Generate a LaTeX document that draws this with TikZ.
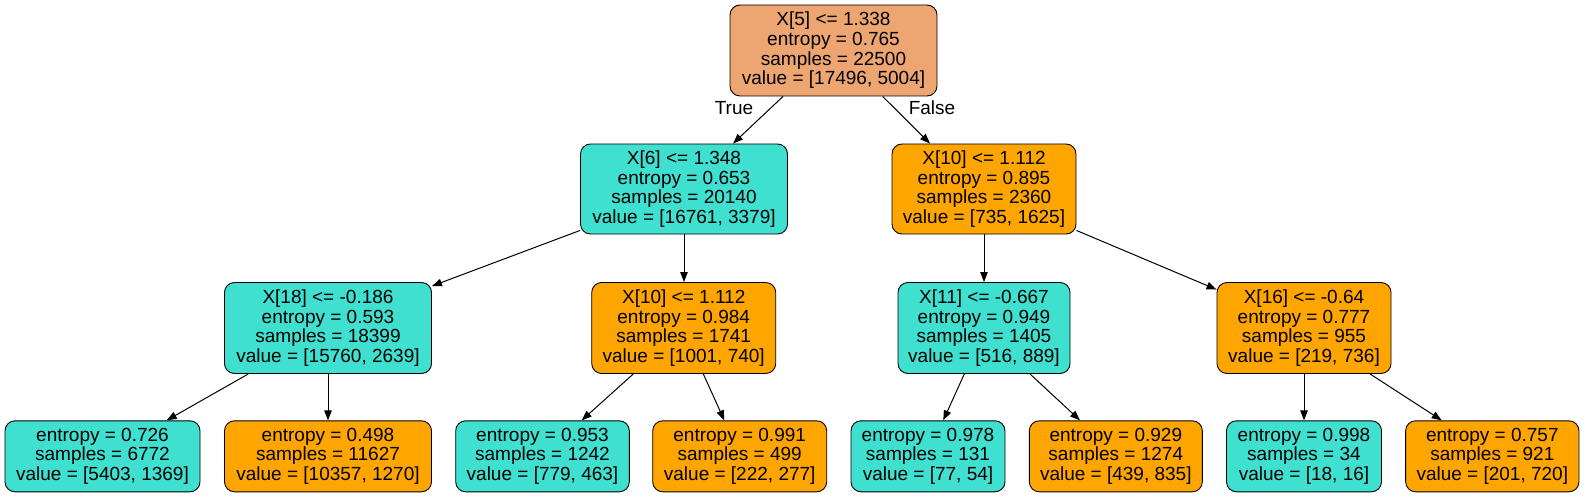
\documentclass[tikz,border=0pt]{standalone}
\usepackage{fontspec}
\setmainfont{Liberation Sans}
\usetikzlibrary{arrows.meta}
\definecolor{turq}{RGB}{64,224,208}
\definecolor{orng}{RGB}{255,165,0}
\definecolor{rootc}{RGB}{237,165,113}
\tikzset{
  tnode/.style={draw=black, line width=0.9pt, rounded corners=10pt, inner sep=0pt, align=center,
    font=\fontsize{19}{19.7}\selectfont},
  tq/.style={tnode, fill=turq},
  og/.style={tnode, fill=orng},
  rt/.style={tnode, fill=rootc},
  edge/.style={draw=black, line width=1pt, -{Triangle[length=10pt,width=7.5pt]}},
  lbl/.style={font=\fontsize{19}{19.7}\selectfont, inner sep=0pt}
}
\begin{document}
\begin{tikzpicture}[x=1pt,y=-1pt]
\useasboundingbox[fill=white] (0,0) rectangle (1584,497);
% level 1
\node[rt, minimum width=207pt, minimum height=91pt] (root) at (833.5,50.5)
  {X[5] <= 1.338\\entropy = 0.765\\samples = 22500\\value = [17496, 5004]};
% level 2
\node[tq, minimum width=207pt, minimum height=90pt] (A) at (684,189)
  {X[6] <= 1.348\\entropy = 0.653\\samples = 20140\\value = [16761, 3379]};
\node[og, minimum width=184pt, minimum height=90pt] (B) at (984,189)
  {X[10] <= 1.112\\entropy = 0.895\\samples = 2360\\value = [735, 1625]};
% level 3
\node[tq, minimum width=207pt, minimum height=91pt] (C) at (328,328)
  {X[18] <= -0.186\\entropy = 0.593\\samples = 18399\\value = [15760, 2639]};
\node[og, minimum width=184pt, minimum height=91pt] (D) at (683.7,328)
  {X[10] <= 1.112\\entropy = 0.984\\samples = 1741\\value = [1001, 740]};
\node[tq, minimum width=172pt, minimum height=91pt] (E) at (984,328)
  {X[11] <= -0.667\\entropy = 0.949\\samples = 1405\\value = [516, 889]};
\node[og, minimum width=174pt, minimum height=91pt] (F) at (1304,328)
  {X[16] <= -0.64\\entropy = 0.777\\samples = 955\\value = [219, 736]};
% leaves
\node[tq, minimum width=195pt, minimum height=71pt] (L1) at (102.5,456.3)
  {entropy = 0.726\\samples = 6772\\value = [5403, 1369]};
\node[og, minimum width=207pt, minimum height=71pt] (L2) at (328,456.3)
  {entropy = 0.498\\samples = 11627\\value = [10357, 1270]};
\node[tq, minimum width=173.6pt, minimum height=71pt] (L3) at (542.5,456.3)
  {entropy = 0.953\\samples = 1242\\value = [779, 463]};
\node[og, minimum width=174pt, minimum height=71pt] (L4) at (739.7,456.3)
  {entropy = 0.991\\samples = 499\\value = [222, 277]};
\node[tq, minimum width=154pt, minimum height=71pt] (L5) at (928,456.3)
  {entropy = 0.978\\samples = 131\\value = [77, 54]};
\node[og, minimum width=173pt, minimum height=71pt] (L6) at (1115.8,456.3)
  {entropy = 0.929\\samples = 1274\\value = [439, 835]};
\node[tq, minimum width=155pt, minimum height=71pt] (L7) at (1304,456.3)
  {entropy = 0.998\\samples = 34\\value = [18, 16]};
\node[og, minimum width=173.3pt, minimum height=71pt] (L8) at (1492.3,456.3)
  {entropy = 0.757\\samples = 921\\value = [201, 720]};
% labels
\node[lbl] (T) at (734,108) {True};
\node[lbl] (Fa) at (932,108) {False};
% edges
\draw[edge] ([xshift=-50.5pt]root.south) -- ([xshift=49pt]A.north);
\draw[edge] ([xshift=49.2pt]root.south) -- ([xshift=-54pt]B.north);
\draw[edge] ([yshift=4pt]A.south west) -- ([yshift=-4pt]C.north east);
\draw[edge] (A.south) -- (A.south |- D.north);
\draw[edge] (B.south) -- (B.south |- E.north);
\draw[edge] ([yshift=4pt]B.south east) -- ([yshift=-7.5pt]F.north west);
\draw[edge] ([xshift=-79.7pt]C.south) -- ([xshift=64.2pt]L1.north);
\draw[edge] (C.south) -- (C.south |- L2.north);
\draw[edge] ([xshift=-50.4pt]D.south) -- ([xshift=39.2pt]L3.north);
\draw[edge] ([xshift=19.6pt]D.south) -- ([xshift=-15.4pt]L4.north);
\draw[edge] ([xshift=-19.7pt]E.south) -- ([xshift=15.3pt]L5.north);
\draw[edge] ([xshift=46pt]E.south) -- ([xshift=-35.8pt]L6.north);
\draw[edge] (F.south) -- (F.south |- L7.north);
\draw[edge] ([xshift=66pt]F.south) -- ([xshift=-50.6pt]L8.north);
\end{tikzpicture}
\end{document}
